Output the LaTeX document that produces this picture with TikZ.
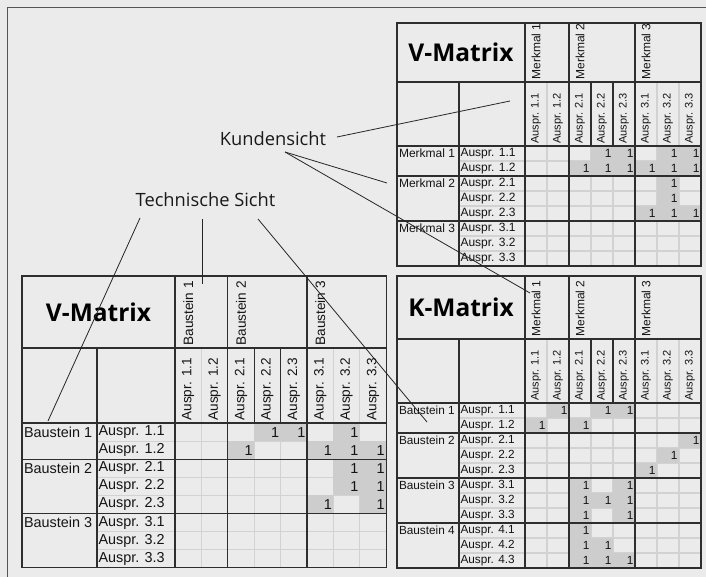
\documentclass[tikz,border=0pt]{standalone}
\usepackage{fontspec}
\setmainfont{Liberation Sans}
\newfontfamily\osans{Open Sans}
\definecolor{bg}{HTML}{EBEBEB}
\definecolor{shd}{HTML}{CDCDCD}
\definecolor{grd}{HTML}{D2D2D2}
\definecolor{dk}{HTML}{2E2E2E}
\definecolor{txt}{HTML}{141414}
\definecolor{frame}{HTML}{555555}
\tikzset{
  darkline/.style={draw=dk,line width=1.3pt},
  gridline/.style={draw=grd,line width=1.2pt},
  conn/.style={draw=black!85,line width=0.8pt},
  celltext/.style={text=txt,inner sep=1.3pt},
  rowlab/.style={celltext,anchor=west,font=\mFrow},
  grplab/.style={celltext,rotate=90,anchor=west,font=\mFgrp},
  sublab/.style={celltext,rotate=90,anchor=west,font=\mFsub},
  numlab/.style={celltext,anchor=east,font=\mFrow},
  titlelab/.style={text=black,inner sep=0pt,font=\osans\bfseries\fontsize{24.5}{26}\selectfont},
  viewlab/.style={text=black!90,inner sep=0pt,font=\osans\fontsize{18.3}{20}\selectfont},
}
\newcommand\DrawMat{%
  \pgfmathsetmacro\mDX{\mLA+\mLB}%
  \pgfmathsetmacro\mW{\mDX+8*\mCW}%
  \pgfmathsetmacro\mDY{\mHA+\mHB}%
  \pgfmathsetmacro\mH{\mDY+\mNR*\mRH}%
  \pgfmathtruncatemacro\mNRm{\mNR-1}%
  % light grid
  \foreach \k in {1,...,\mNRm}{\draw[gridline] (\mLA,{\mDY+\k*\mRH}) -- (\mW,{\mDY+\k*\mRH});}
  \foreach \k in {1,...,7}{\draw[gridline] ({\mDX+\k*\mCW},\mHA) -- ({\mDX+\k*\mCW},\mH);}
  % shaded cells
  \foreach \r/\c in \mShade {\fill[shd] ({\mDX+(\c-1)*\mCW},{\mDY+(\r-1)*\mRH}) rectangle ++(\mCW,\mRH);}
  % dark lines
  \draw[darkline] (0,0) rectangle (\mW,\mH);
  \draw[darkline] (0,\mHA) -- (\mW,\mHA);
  \draw[darkline] (0,\mDY) -- (\mW,\mDY);
  \draw[darkline] (\mLA,\mHA) -- (\mLA,\mH);
  \draw[darkline] (\mDX,0) -- (\mDX,\mH);
  \foreach \k in {2,5}{\draw[darkline] ({\mDX+\k*\mCW},0) -- ({\mDX+\k*\mCW},\mH);}
  \foreach \k in {3,4}{\draw[darkline] ({\mDX+\k*\mCW},\mHA) -- ({\mDX+\k*\mCW},\mDY);}
  \foreach \k in \mGroups {\draw[darkline] (0,{\mDY+\k*\mRH}) -- (\mW,{\mDY+\k*\mRH});}
  % title
  \node[titlelab] (\mP-title) at ({\mDX/2},{\mHA/2}) {\mTitle};
  % column headers
  \foreach \g/\k [count=\i] in {1/1,1/2,2/1,2/2,2/3,3/1,3/2,3/3}{%
    \node[sublab] (\mP-c\i) at ({\mDX+(\i-0.5)*\mCW},{\mDY-1}) {Auspr. \g.\k};
    \ifnum\k=1 \node[grplab] (\mP-cg\g) at ({\mDX+(\i-0.5)*\mCW},{\mHA-1}) {\mCG\ \g};\fi
  }
  % row headers
  \foreach \g/\k [count=\i] in \mRows {%
    \node[rowlab] (\mP-r\i) at (\mLA,{\mDY+(\i-0.5)*\mRH}) {Auspr. \g.\k};
    \ifnum\k=1 \node[rowlab] (\mP-rg\g) at (0.5,{\mDY+(\i-0.5)*\mRH}) {\mRG\ \g};\fi
  }
  % numbers
  \foreach \r/\c in \mShade {\node[numlab] (\mP-n\r-\c) at ({\mDX+\c*\mCW},{\mDY+(\r-0.5)*\mRH}) {1};}
}
\begin{document}
\begin{tikzpicture}[x=1pt,y=-1pt]
\useasboundingbox (0,0) rectangle (706,577);
\fill[bg] (0,0) rectangle (706,577);
\draw[draw=frame,line width=0.9pt] (7,577) -- (7,7) -- (706,7);

% Top-right V-Matrix (Kundensicht)
\begin{scope}[shift={(397,23)}]
  \def\mP{kv}\def\mLA{62}\def\mLB{66}\def\mCW{22}\def\mHA{59}\def\mHB{64}\def\mRH{15}\def\mNR{8}
  \def\mTitle{V-Matrix}\def\mCG{Merkmal}\def\mRG{Merkmal}
  \def\mRows{1/1,1/2,2/1,2/2,2/3,3/1,3/2,3/3}
  \def\mGroups{2,5}
  \def\mShade{1/4,1/5,1/7,1/8,2/3,2/4,2/5,2/6,2/7,2/8,3/7,4/7,5/6,5/7,5/8}
  \def\mFrow{\fontsize{12}{13}\selectfont}
  \def\mFgrp{\fontsize{12}{13}\selectfont}
  \def\mFsub{\fontsize{11}{12}\selectfont}
  \DrawMat
\end{scope}

% K-Matrix
\begin{scope}[shift={(397,276)}]
  \def\mP{km}\def\mLA{62}\def\mLB{66}\def\mCW{22}\def\mHA{63}\def\mHB{64}\def\mRH{15}\def\mNR{11}
  \def\mTitle{K-Matrix}\def\mCG{Merkmal}\def\mRG{Baustein}
  \def\mRows{1/1,1/2,2/1,2/2,2/3,3/1,3/2,3/3,4/1,4/2,4/3}
  \def\mGroups{2,5,8}
  \def\mShade{1/2,1/4,1/5,2/1,2/3,3/8,4/7,5/6,6/3,6/5,7/3,7/4,7/5,8/3,8/5,9/3,10/3,10/4,11/3,11/4,11/5}
  \def\mFrow{\fontsize{11.8}{13}\selectfont}
  \def\mFgrp{\fontsize{12}{13}\selectfont}
  \def\mFsub{\fontsize{11}{12}\selectfont}
  \DrawMat
\end{scope}

% Bottom-left V-Matrix (Technische Sicht)
\begin{scope}[shift={(22,276)}]
  \def\mP{tv}\def\mLA{75}\def\mLB{78}\def\mCW{26.4}\def\mHA{72}\def\mHB{75}\def\mRH{18.1}\def\mNR{8}
  \def\mTitle{V-Matrix}\def\mCG{Baustein}\def\mRG{Baustein}
  \def\mRows{1/1,1/2,2/1,2/2,2/3,3/1,3/2,3/3}
  \def\mGroups{2,5}
  \def\mShade{1/4,1/5,1/7,2/3,2/6,2/7,2/8,3/7,3/8,4/7,4/8,5/6,5/8}
  \def\mFrow{\fontsize{14.4}{16}\selectfont}
  \def\mFgrp{\fontsize{13.6}{15}\selectfont}
  \def\mFsub{\fontsize{13.6}{15}\selectfont}
  \DrawMat
\end{scope}

% view labels and connectors
\node[viewlab] (kunde) at (273,139) {Kundensicht};
\node[viewlab] (technik) at (205.5,200) {Technische Sicht};
\coordinate (ka) at (337,137);
\coordinate (kb) at (285,152);
\coordinate (kae) at (510,101);
\coordinate (kbe) at (387,183);
\coordinate (kce) at (530,293);
\coordinate (ta) at (140,218);
\coordinate (tb) at (202,219);
\coordinate (tc) at (258,219);
\coordinate (tae) at (48,421);
\coordinate (tbe) at (202,284);
\coordinate (tce) at (427,422);
\draw[conn] (ka) -- (kae);
\draw[conn] (kb) -- (kbe);
\draw[conn] (kb) -- (kce);
\draw[conn] (ta) -- (tae);
\draw[conn] (tb) -- (tbe);
\draw[conn] (tc) -- (tce);
\end{tikzpicture}
\end{document}
